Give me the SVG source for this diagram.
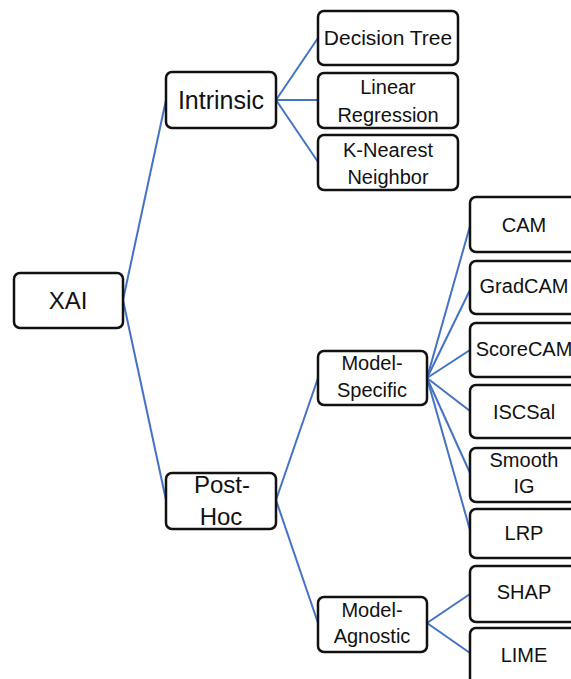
<svg xmlns="http://www.w3.org/2000/svg" width="571" height="679" viewBox="0 0 571 679">
<style>
.box{fill:#fff;stroke:#111;stroke-width:2.5}
.t{font-family:"Liberation Sans",Arial,sans-serif;fill:#111;text-anchor:middle}
.l{font-size:24px}
.m{font-size:21px}
.s{font-size:20px}
.c line{stroke:#4472C4;stroke-width:2}
</style>
<rect width="571" height="679" fill="#fff"/>
<g class="c" id="connectors">
<line x1="123" y1="300" x2="166" y2="100"/>
<line x1="123" y1="300" x2="166" y2="500"/>
<line x1="276" y1="100" x2="318" y2="38"/>
<line x1="276" y1="100" x2="318" y2="100"/>
<line x1="276" y1="100" x2="318" y2="162"/>
<line x1="276" y1="500" x2="318" y2="378"/>
<line x1="276" y1="500" x2="318" y2="623"/>
<line x1="427" y1="378" x2="470" y2="226"/>
<line x1="427" y1="378" x2="470" y2="290"/>
<line x1="427" y1="378" x2="470" y2="350"/>
<line x1="427" y1="378" x2="470" y2="411"/>
<line x1="427" y1="378" x2="470" y2="473"/>
<line x1="427" y1="378" x2="470" y2="530"/>
<line x1="427" y1="623" x2="470" y2="594"/>
<line x1="427" y1="623" x2="470" y2="653"/>
</g>
<g id="xai"><rect class="box" x="14" y="273" width="109" height="55" rx="6"/><text class="t l" x="68" y="309">XAI</text></g>
<g id="intrinsic"><rect class="box" x="166" y="72" width="110" height="56" rx="6"/><text class="t" style="font-size:25px" x="221" y="109">Intrinsic</text></g>
<g id="posthoc"><rect class="box" x="166" y="473" width="110" height="56" rx="6"/><text class="t l" x="222" y="493">Post-</text><text class="t l" x="221" y="525">Hoc</text></g>
<g id="decisiontree"><rect class="box" x="318" y="11" width="140" height="54" rx="6"/><text class="t m" x="388" y="45">Decision Tree</text></g>
<g id="linear"><rect class="box" x="318" y="73" width="140" height="55" rx="6"/><text class="t s" x="388" y="94">Linear</text><text class="t s" x="388" y="122">Regression</text></g>
<g id="knn"><rect class="box" x="318" y="135" width="140" height="55" rx="6"/><text class="t s" x="388" y="157">K-Nearest</text><text class="t s" x="388" y="184">Neighbor</text></g>
<g id="modelspecific"><rect class="box" x="318" y="351" width="109" height="54" rx="6"/><text class="t s" x="372" y="370">Model-</text><text class="t s" x="372" y="397">Specific</text></g>
<g id="modelagnostic"><rect class="box" x="318" y="597" width="109" height="55" rx="6"/><text class="t s" x="372" y="617">Model-</text><text class="t s" x="372" y="643">Agnostic</text></g>
<g id="cam"><rect class="box" x="470" y="197" width="110" height="55" rx="6"/><text class="t s" x="524" y="232">CAM</text></g>
<g id="gradcam"><rect class="box" x="470" y="261" width="110" height="53" rx="6"/><text class="t s" x="524" y="293">GradCAM</text></g>
<g id="scorecam"><rect class="box" x="470" y="323" width="110" height="54" rx="6"/><text class="t s" x="524" y="356">ScoreCAM</text></g>
<g id="iscsal"><rect class="box" x="470" y="385" width="110" height="53" rx="6"/><text class="t s" x="524" y="419">ISCSal</text></g>
<g id="smoothig"><rect class="box" x="470" y="448" width="110" height="54" rx="6"/><text class="t s" x="524" y="467">Smooth</text><text class="t s" x="524" y="493">IG</text></g>
<g id="lrp"><rect class="box" x="470" y="509" width="110" height="49" rx="6"/><text class="t s" x="524" y="540">LRP</text></g>
<g id="shap"><rect class="box" x="470" y="566" width="110" height="56" rx="6"/><text class="t s" x="524" y="599">SHAP</text></g>
<g id="lime"><rect class="box" x="470" y="628" width="110" height="60" rx="6"/><text class="t s" x="524" y="662">LIME</text></g>
</svg>
